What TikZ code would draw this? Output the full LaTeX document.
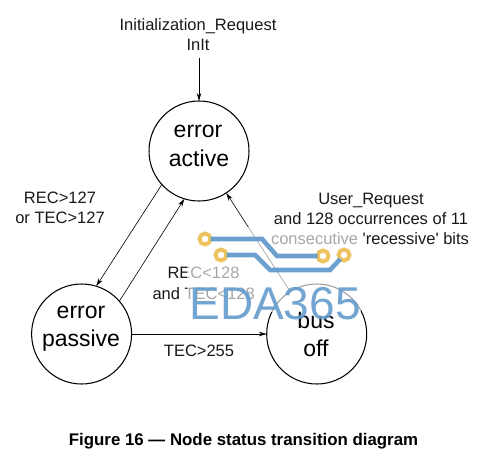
\documentclass[tikz,border=0pt]{standalone}
\usepackage{fontspec}
\setmainfont{Liberation Sans}[Ligatures=TeXOff]
\usetikzlibrary{arrows.meta}
\definecolor{wmblue}{RGB}{100,155,205}
\definecolor{wmyellow}{RGB}{238,196,96}
\tikzset{
  statecircle/.style={circle,draw=black,line width=1.05pt,minimum size=100pt,inner sep=0pt,outer sep=0pt},
  arr/.style={line width=0.6pt,-{Stealth[length=8pt,width=4.5pt]}},
  lbl/.style={anchor=base,inner sep=0pt,font=\fontsize{16.5}{20}\selectfont,text=black!90},
  big/.style={anchor=base,inner sep=0pt,font=\fontsize{23}{28}\selectfont},
  figcaption/.style={anchor=base,inner sep=0pt,font=\fontsize{16.85}{20}\bfseries\selectfont},
  veil/.style={fill=white,draw=none,opacity=0.62},
  trace/.style={draw=wmblue,line width=4.6pt,opacity=0.95},
  ring/.style={circle,draw=wmyellow,line width=4pt,fill=white,minimum size=11pt,inner sep=0pt,outer sep=0pt},
  wm/.style={anchor=base,inner sep=0pt,text=wmblue,text opacity=0.9,font=\fontsize{46}{50}\selectfont}
}
\begin{document}
\begin{tikzpicture}[x=1pt,y=-1pt]
\useasboundingbox (0,0) rectangle (478,465);
\node[statecircle] (ea) at (199,151) {};
\node[statecircle] (pa) at (81.6,334) {};
\node[statecircle] (bo) at (316.7,334) {};
\coordinate (init) at (199,58);
\draw[arr] (init) -- (ea.north);
\draw[arr] (ea.222.7) -- (pa.73);
\draw[arr] (pa.41.5) -- (ea.253.5);
\draw[arr] (bo.122) -- (ea.303.4);
\draw[arr] (pa.east) -- (bo.west);
\node[lbl] (t1) at (198,31) {Initialization\_Request};
\node[lbl] (t2) at (198,51) {InIt};
\node[big] (ea1) at (198,138) {error};
\node[big] (ea2) at (199,166) {active};
\node[big] (pa1) at (81,318) {error};
\node[big] (pa2) at (81,346) {passive};
\node[big] (bo1) at (316,328) {bus};
\node[big] (bo2) at (316,356) {off};
\node[lbl] (l1) at (60,203) {REC>127};
\node[lbl] (l2) at (60,223) {or TEC>127};
\node[lbl] (l3) at (203.5,278) {REC<128};
\node[lbl] (l4) at (203.7,299) {and TEC<128};
\node[lbl] (l5) at (199,356) {TEC>255};
\node[lbl] (l6) at (371,204) {User\_Request};
\node[lbl] (l7) at (371,224) {and 128 occurrences of 11};
\node[lbl] (l8) at (370,244) {consecutive 'recessive' bits};
\node[figcaption] (cp) at (243.5,445) {Figure 16 — Node status transition diagram};
% watermark
\fill[veil] (187,227) rectangle (361,312);
\node[ring] (r1) at (205,239) {};
\node[ring] (r2) at (323,256) {};
\node[ring] (r3) at (221,255) {};
\node[ring] (r4) at (344,255) {};
\draw[trace] (r1) -- (262,239) -- (277,256) -- (r2);
\draw[trace] (r3) -- (255,255) -- (270,270) -- (330,270) -- (r4);
\node[wm] (wm) at (275,319) {EDA365};
\end{tikzpicture}
\end{document}
